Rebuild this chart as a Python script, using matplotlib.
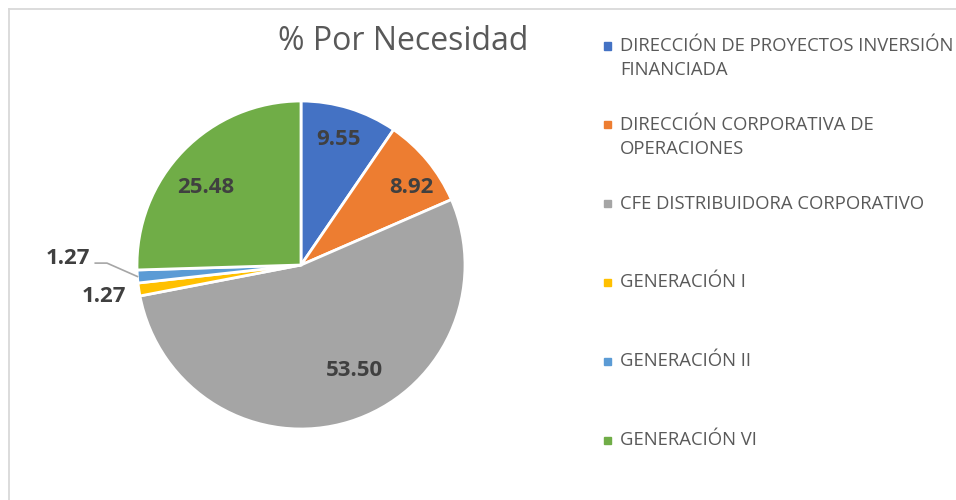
import matplotlib
matplotlib.use('Agg')
import matplotlib.pyplot as plt
from matplotlib.lines import Line2D
from matplotlib.patches import Rectangle
import numpy as np

# ─── Data ───────────────────────────────────────────────────────────
categories = ['DIRECCIÓN DE PROYECTOS INVERSIÓN\nFINANCIADA',
              'DIRECCIÓN CORPORATIVA DE\nOPERACIONES',
              'CFE DISTRIBUIDORA CORPORATIVO',
              'GENERACIÓN I',
              'GENERACIÓN II',
              'GENERACIÓN VI']
values = [9.55, 8.92, 53.50, 1.27, 1.27, 25.48]
colors = ['#4472C4', '#ED7D31', '#A5A5A5', '#FFC000', '#5B9BD5', '#70AD47']
title = '% Por Necesidad'

# label placement (radius as fraction of pie, angle shift in degrees)
label_r = [0.80, 0.82, 0.72, 1.22, 1.42, 0.745]
label_shift = [0.8, -4.5, 9.5, 0.6, -5.7, 5.0]

plt.rcParams.update({'font.family': ['Open Sans', 'DejaVu Sans']})

W, H = 956, 500
fig = plt.figure(figsize=(W / 100, H / 100), dpi=100)

# chart border (only top and left visible)
fig.add_artist(Line2D([8.5 / W, 8.5 / W], [0, 1 - 8.5 / H], color='#d9d9d9', lw=1.3))
fig.add_artist(Line2D([8.5 / W, 1], [1 - 8.5 / H, 1 - 8.5 / H], color='#d9d9d9', lw=1.3))

# pie axes: center (301, 265) px, radius 164 px
cx, cy, R = 301, 265, 164
ax = fig.add_axes([(cx - R) / W, (H - cy - R) / H, 2 * R / W, 2 * R / H])
wedges, _ = ax.pie(values, colors=colors, startangle=90, counterclock=False,
                   radius=1, wedgeprops=dict(edgecolor='white', linewidth=2))
ax.set_xlim(-1, 1)
ax.set_ylim(-1, 1)
ax.set_clip_on(False)

for i, (w, v) in enumerate(zip(wedges, values)):
    mid = (w.theta1 + w.theta2) / 2
    ang = np.deg2rad(mid + label_shift[i])
    x, y = label_r[i] * np.cos(ang), label_r[i] * np.sin(ang)
    ax.text(x, y, f'{v:.2f}', ha='center', va='center', fontsize=16,
            fontweight='bold', color='#404040', clip_on=False)
    if label_r[i] > 1.3:
        edge = np.deg2rad(mid)
        ex, ey = np.cos(edge), np.sin(edge)
        ax.plot([x + 0.165, -1.183, ex], [y - 0.03, y - 0.03, ey],
                color='#a6a6a6', lw=1.2, clip_on=False)

fig.text(403 / W, 1 - 42 / H, title, ha='center', va='center',
         fontsize=23, color='#595959')

# legend
line_gap = 24
for i, (lab, c) in enumerate(zip(categories, colors)):
    ytop = 46 + 78.8 * i
    nlines = lab.count('\n') + 1
    fig.add_artist(Rectangle((604 / W, 1 - (ytop + 3.5) / H), 7 / W, 7 / H,
                             color=c, transform=fig.transFigure))
    yc = ytop + (nlines - 1) * line_gap / 2
    fig.text(620 / W, 1 - yc / H, lab, ha='left', va='center',
             fontsize=13.3, color='#595959', linespacing=1.42)

fig.savefig('out.png', dpi=100, facecolor='white')
